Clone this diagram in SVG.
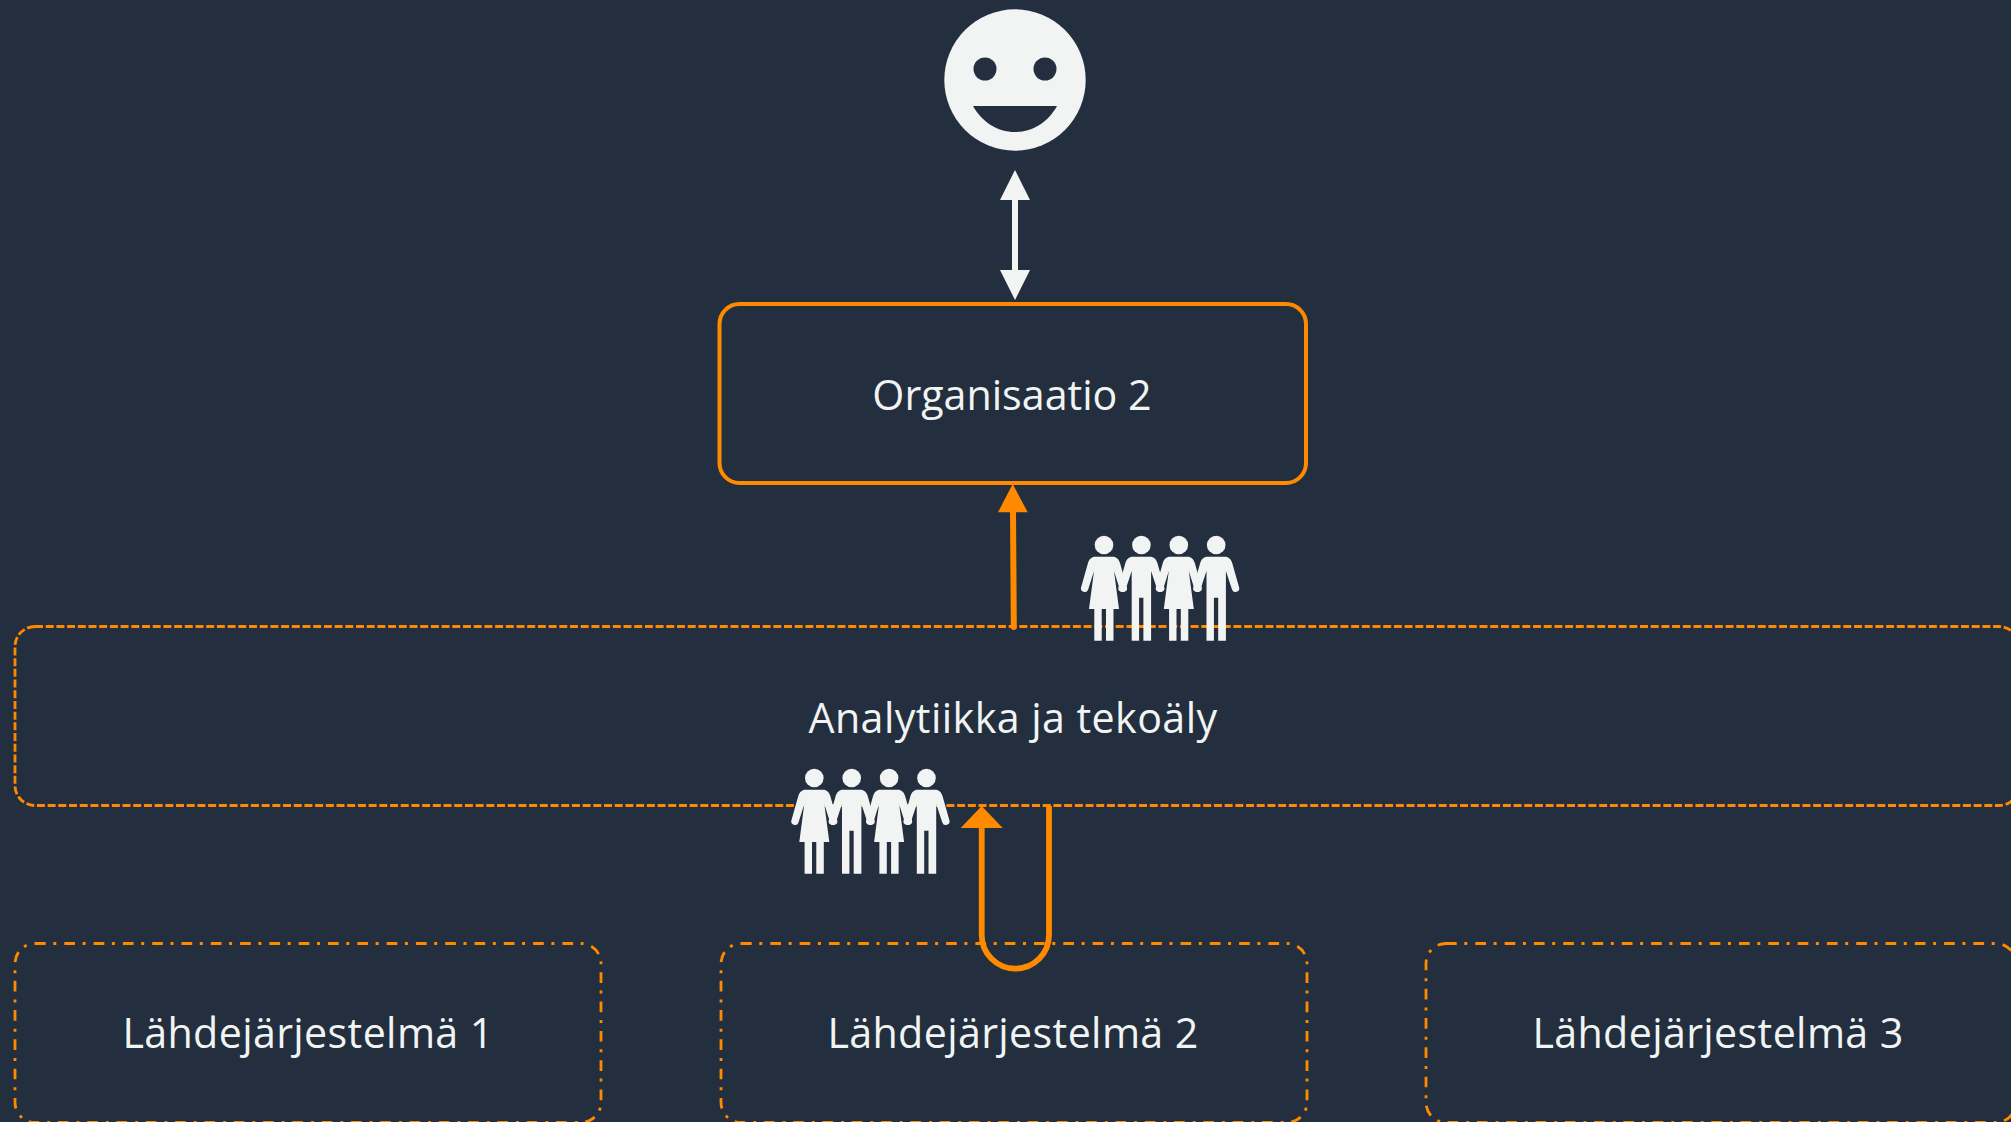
<svg xmlns="http://www.w3.org/2000/svg" xmlns:xlink="http://www.w3.org/1999/xlink" width="2011" height="1122" viewBox="0 0 2011 1122">
<style>
.lbl{font-family:"Open Sans","Noto Sans","Liberation Sans",sans-serif;font-size:41.2px;fill:#f2f4f4;text-anchor:middle}
.sp{letter-spacing:.36px}
.ln{fill:none;stroke:#ff8a00}
.dd{stroke-width:2.8;stroke-dasharray:10.7 7.6 3 8}
.d{stroke-width:2.8;stroke-dasharray:8 2.7}
.w{fill:#f2f4f4}
</style>
<defs>
<g id="woman" class="w"><circle cx="0" cy="0" r="9.3"/><path d="M-9 11.700H9C12 11.700 15 14 16 18L22.800 42A3.600 3.600 0 0 1 15.800 44.500L10 26 15 64H9.500V95.700H2V64H-2.300V95.700H-9.700V64H-15L-10 26-15.800 44.500A3.600 3.600 0 0 1-22.800 42L-16 18C-15 14-12 11.700-9 11.700Z"/></g>
<g id="man" class="w"><circle cx="0" cy="0" r="9.300"/><path d="M-9 11.700H9C12 11.700 15 14 16 18L22.800 42A3.600 3.600 0 0 1 15.800 44.500L9.700 26V95.700H2V52.700H-2.300V95.700H-9.700V26L-15.800 44.500A3.600 3.600 0 0 1-22.800 42L-16 18C-15 14-12 11.700-9 11.700Z"/></g>
<g id="people"><use xlink:href="#woman" x="0"/><use xlink:href="#man" x="37.400"/><use xlink:href="#woman" x="74.800"/><use xlink:href="#man" x="112.200"/></g>
</defs>
<rect width="2011" height="1122" fill="#232f3e"/>
<g id="analytics"><rect class="ln d" x="15" y="626.500" width="2004" height="179" rx="20"/><text class="lbl" x="1013" y="732.700" style="letter-spacing:.43px">Analytiikka ja tekoäly</text></g>
<g id="org"><rect class="ln" stroke-width="4" x="719.500" y="304" width="586.500" height="179" rx="20"/><text class="lbl" x="1012" y="410">Organisaatio 2</text></g>
<g id="src1"><rect class="ln dd" x="15" y="943.500" width="586" height="179" rx="20"/><text class="lbl sp" x="308" y="1048">Lähdejärjestelmä 1</text></g>
<g id="src2"><rect class="ln dd" x="721" y="943.500" width="586" height="179" rx="20"/><text class="lbl sp" x="1013" y="1048">Lähdejärjestelmä 2</text></g>
<g id="src3"><rect class="ln dd" x="1426" y="943.500" width="590" height="179" rx="20"/><text class="lbl sp" x="1718" y="1048">Lähdejärjestelmä 3</text></g>
<g id="connectors">
<path d="M1015 198V272" stroke="#f2f4f4" stroke-width="6" fill="none"/>
<path class="w" d="M1015 170L1030 200H1000ZM1015 300L1030 270H1000Z"/>
<path class="ln" stroke-width="6" stroke-linecap="round" d="M1013.800 627L1013 510"/>
<path d="M1012.700 484L1027.700 512.300H998Z" fill="#ff8a00"/>
<path class="ln" stroke-width="5.800" d="M1049 806V935A33.650 33.650 0 0 1 981.700 935V826"/>
<path d="M981.700 806L1002.700 828H960.700Z" fill="#ff8a00"/>
</g>
<g id="face"><circle class="w" cx="1015" cy="80" r="70.700"/><circle cx="985" cy="69" r="11.500" fill="#232f3e"/><circle cx="1045" cy="69" r="11.500" fill="#232f3e"/><path d="M973 106H1057C1048 122 1033 132 1015 132S982 122 973 106Z" fill="#232f3e"/></g>
<g id="people1"><use xlink:href="#people" x="1104" y="545"/></g>
<g id="people2"><use xlink:href="#people" x="814.300" y="778"/></g>
</svg>
